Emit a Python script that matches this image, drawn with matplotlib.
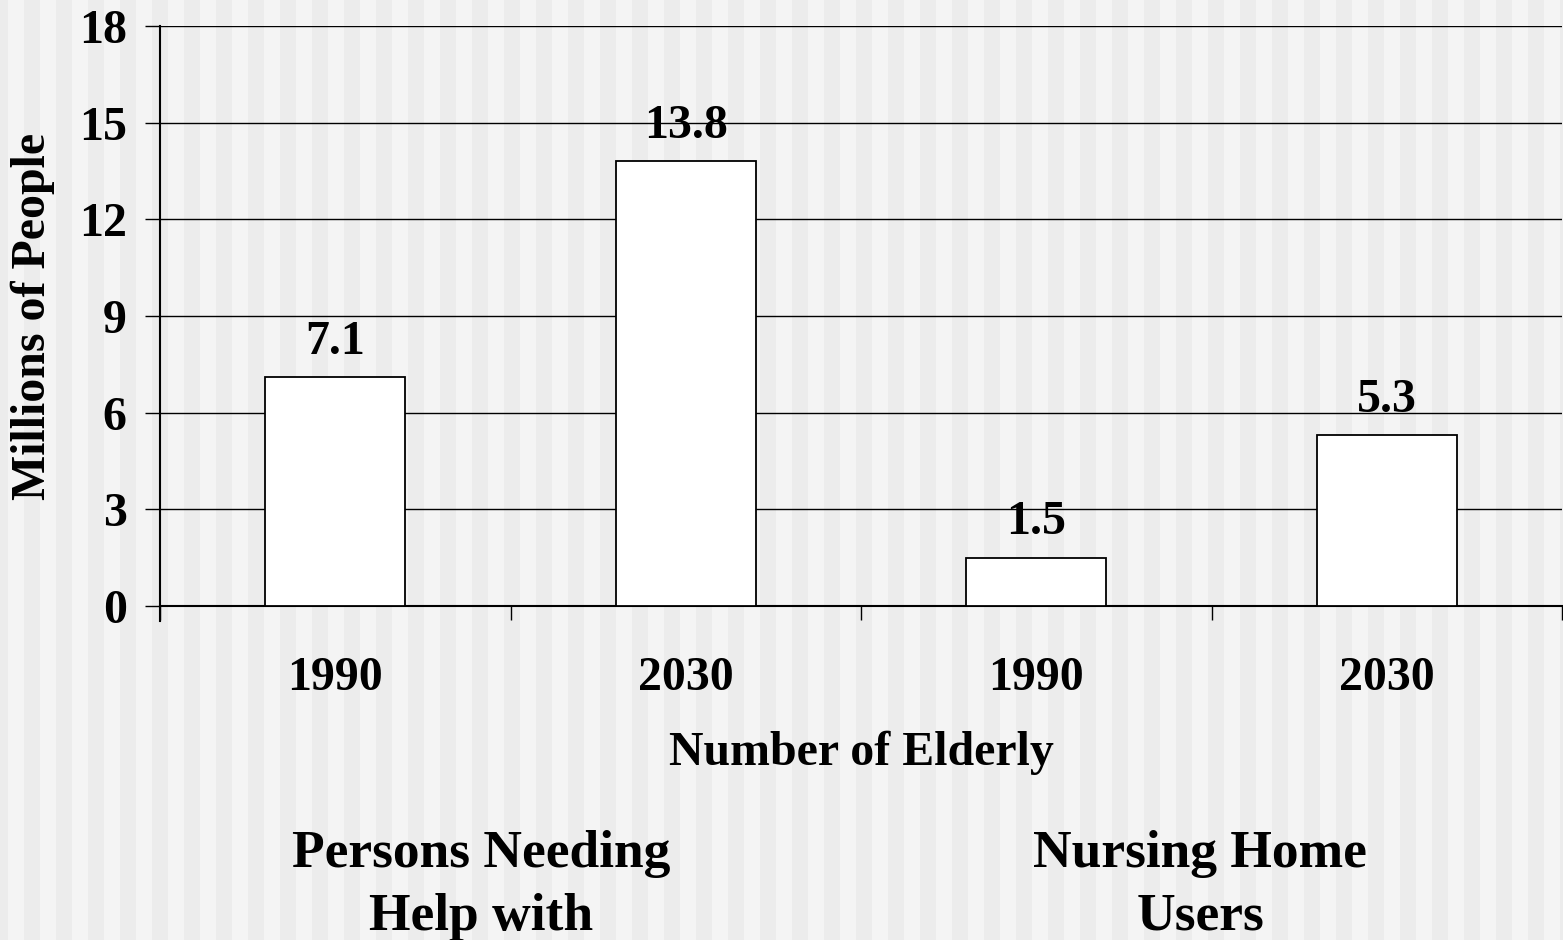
import matplotlib
matplotlib.use("Agg")
import matplotlib.pyplot as plt
import numpy as np

years = ["1990", "2030", "1990", "2030"]
millions = [7.1, 13.8, 1.5, 5.3]
value_labels = ["7.1", "13.8", "1.5", "5.3"]
y_ticks = [0, 3, 6, 9, 12, 15, 18]
group_labels = ["Persons Needing\nHelp with", "Nursing Home\nUsers"]

W, H = 1563, 940
FS = 34.5
FS_GROUP = 38.5
plt.rcParams["font.family"] = ["Liberation Serif", "DejaVu Serif"]
plt.rcParams["font.weight"] = "bold"

fig = plt.figure(figsize=(W / 100, H / 100), dpi=100)

# striped slide background, in pixels
bg = fig.add_axes([0, 0, 1, 1], zorder=-10)
bg.set_xlim(0, W)
bg.set_ylim(0, H)
bg.set_facecolor("#f4f4f4")
for x0 in np.arange(-8, W, 32):
    bg.axvspan(x0, x0 + 16, color="#ececec", lw=0)
for s in bg.spines.values():
    s.set_visible(False)
bg.set_xticks([])
bg.set_yticks([])

ax = fig.add_axes([160 / W, 1 - 606 / H, 1402 / W, 580 / H])
ax.patch.set_alpha(0)
x = np.arange(len(years))
ax.bar(x, millions, width=0.4, color="white", edgecolor="black", linewidth=1.3, zorder=3)

for xi, v, lab in zip(x, millions, value_labels):
    ax.annotate(lab, (xi, v), xytext=(0, 17), textcoords="offset points",
                ha="center", va="baseline", fontsize=FS, fontweight="bold", zorder=5)

ax.set_xlim(-0.5, 3.5)
ax.set_ylim(0, 18)
ax.set_yticks(y_ticks)
ax.yaxis.grid(True, color="black", linewidth=1.0, zorder=0)
ax.set_axisbelow(True)
ax.tick_params(axis="y", length=11, width=1.0, pad=13, labelsize=FS)

ax.set_xticks(x)
ax.set_xticklabels(years, fontsize=FS, fontweight="bold")
ax.set_xticks(np.arange(-0.5, 4, 1), minor=True)
ax.tick_params(axis="x", which="major", length=0, pad=36)
ax.tick_params(axis="x", which="minor", length=10, width=1.0)

for lab in ax.get_yticklabels():
    lab.set_fontweight("bold")

ax.spines["top"].set_visible(False)
ax.spines["right"].set_visible(False)
ax.spines["left"].set_linewidth(1.5)
ax.spines["bottom"].set_linewidth(1.5)
ax.spines["left"].set_bounds(-0.45, 18)

ax.set_xlabel("Number of Elderly", fontsize=FS, fontweight="bold", labelpad=22)

fig.text(33 / W, 1 - 316 / H, "Millions of People", rotation=90, ha="center", va="center",
         fontsize=FS, fontweight="bold")

# group captions under the axis, one line at a time
for gx, gl in zip([481, 1200], group_labels):
    for i, line in enumerate(gl.split("\n")):
        fig.text(gx / W, 1 - (867 + 63 * i) / H, line, ha="center", va="baseline",
                 fontsize=FS_GROUP, fontweight="bold")

fig.savefig("out.png", dpi=100)
